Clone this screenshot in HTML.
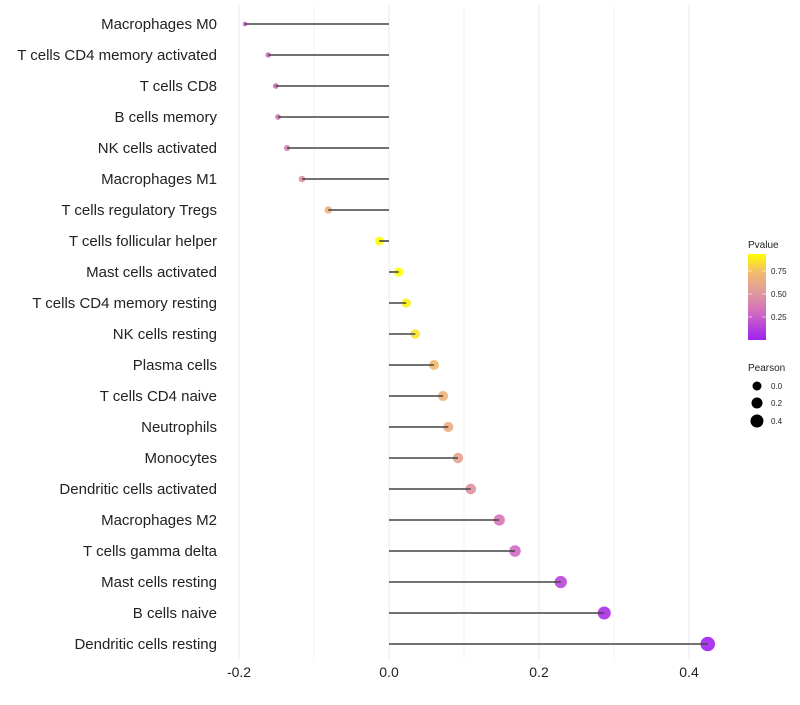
<!DOCTYPE html>
<html><head><meta charset="utf-8"><style>
body{margin:0;background:#fff;font-family:"Liberation Sans",sans-serif}
</style></head><body>
<svg id="c" width="800" height="700" xmlns="http://www.w3.org/2000/svg"></svg>
<script>
const categories=["Macrophages M0","T cells CD4 memory activated","T cells CD8","B cells memory","NK cells activated","Macrophages M1","T cells regulatory  Tregs","T cells follicular helper","Mast cells activated","T cells CD4 memory resting","NK cells resting","Plasma cells","T cells CD4 naive","Neutrophils","Monocytes","Dendritic cells activated","Macrophages M2","T cells gamma delta","Mast cells resting","B cells naive","Dendritic cells resting"];
const pearson=[-0.192,-0.161,-0.151,-0.148,-0.136,-0.116,-0.081,-0.013,0.013,0.023,0.035,0.060,0.072,0.079,0.092,0.109,0.147,0.168,0.229,0.287,0.425];
const pvalues=[0.22,0.3,0.3,0.33,0.38,0.48,0.68,0.92,0.92,0.88,0.84,0.72,0.68,0.64,0.58,0.48,0.34,0.28,0.15,0.06,0.01];
const xTicks=[-0.2,0,0.2,0.4];
const xTickLabels=["-0.2","0.0","0.2","0.4"];
const xMinor=[-0.1,0.1,0.3];
const ns="http://www.w3.org/2000/svg";
const svg=document.getElementById('c');
const X=v=>389+v*750;
const Y=i=>24+i*31;
function mk(t,a){const e=document.createElementNS(ns,t);for(const k in a)e.setAttribute(k,a[k]);svg.appendChild(e);return e;}
function lerp(a,b,t){return a.map((v,i)=>Math.round(v+(b[i]-v)*t));}
function col(p){const stops=[[0,[160,32,240]],[0.3,[210,110,190]],[0.55,[228,160,150]],[0.72,[242,185,110]],[0.92,[255,255,0]]];
 if(p>=0.92)return 'rgb(255,255,0)';
 for(let i=0;i<stops.length-1;i++){if(p<=stops[i+1][0]){const t=(p-stops[i][0])/(stops[i+1][0]-stops[i][0]);return 'rgb('+lerp(stops[i][1],stops[i+1][1],t).join(',')+')';}}}
const R=v=>Math.sqrt(5+(v+0.192)*78);
xMinor.forEach(v=>{const l=mk('line',{x1:X(v),x2:X(v),y1:5,y2:660,stroke:'#f3f3f3','stroke-width':1});

});
xTicks.forEach((v,i)=>{const l=mk('line',{x1:X(v),x2:X(v),y1:5,y2:660,stroke:'#e8e8e8','stroke-width':1});


const t=mk('text',{x:X(v),y:677,'text-anchor':'middle','font-size':14,fill:'#222'});t.textContent=xTickLabels[i];

});
categories.forEach((c,i)=>{const y=Y(i);
 const t=mk('text',{x:217,y:y+5,'text-anchor':'end','font-size':15,fill:'#222'});t.textContent=c;
 
 
 const d=mk('circle',{cx:X(pearson[i]),cy:y,r:R(pearson[i]),fill:col(pvalues[i]),'fill-opacity':0.9});
 
 
 const s=mk('line',{x1:X(0),x2:X(pearson[i]),y1:y,y2:y,stroke:'#444','stroke-width':1.6});
 
 
});
const defs=mk('defs',{});
defs.innerHTML='<linearGradient id="g" x1="0" y1="1" x2="0" y2="0"><stop offset="0" stop-color="rgb(160,32,240)"/><stop offset="0.33" stop-color="rgb(210,110,190)"/><stop offset="0.6" stop-color="rgb(228,160,150)"/><stop offset="0.78" stop-color="rgb(242,185,110)"/><stop offset="1" stop-color="rgb(255,255,0)"/></linearGradient>';
const lt=mk('text',{x:748,y:248,'font-size':10,fill:'#222'});lt.textContent='Pvalue';


const bar=mk('rect',{x:748,y:254,width:18,height:86,fill:'url(#g)'});


[["0.75",271],["0.50",294],["0.25",317]].forEach(([s,y])=>{
 mk('line',{x1:748,x2:752,y1:y,y2:y,stroke:'#fff','stroke-opacity':0.6});mk('line',{x1:762,x2:766,y1:y,y2:y,stroke:'#fff','stroke-opacity':0.6});
 const t=mk('text',{x:771,y:y+3,'font-size':8,fill:'#222'});t.textContent=s;
 
 });
const pt=mk('text',{x:748,y:371,'font-size':10,fill:'#222'});pt.textContent='Pearson';


[["0.0",386,4.5],["0.2",403,5.5],["0.4",421,6.5]].forEach(([s,y,r])=>{
 const c=mk('circle',{cx:757,cy:y,r:r,fill:'#000'});
 
 
 const t=mk('text',{x:771,y:y+3,'font-size':8,fill:'#222'});t.textContent=s;
 
 });
</script>
</body></html>
